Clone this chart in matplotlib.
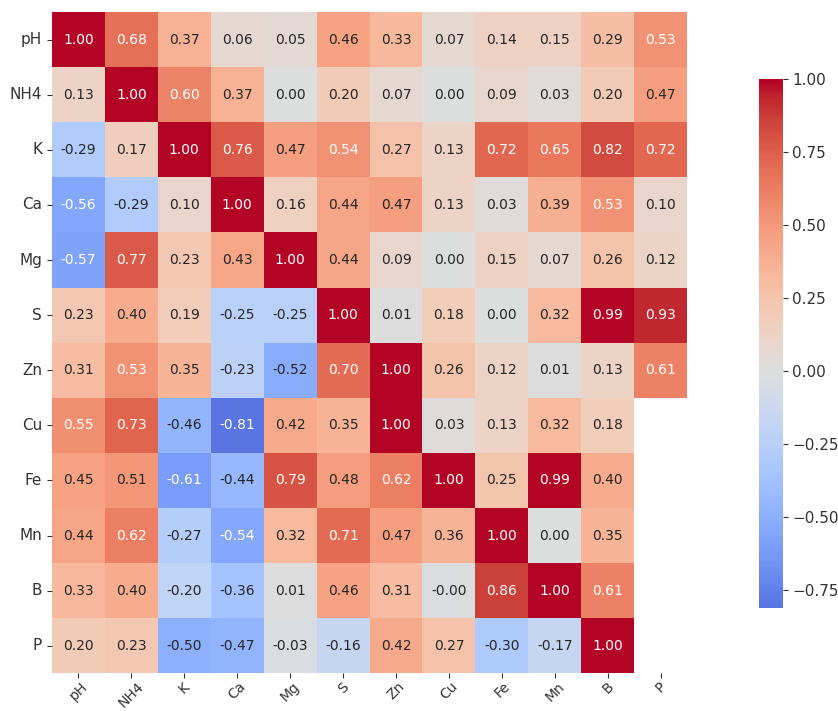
import numpy as np
import matplotlib
matplotlib.use('Agg')
import matplotlib.pyplot as plt
import seaborn as sns

# Variable names (rows and columns)
labels = ['pH', 'NH4', 'K', 'Ca', 'Mg', 'S', 'Zn', 'Cu', 'Fe', 'Mn', 'B', 'P']

# Correlation values, one list per row
row_pH  = [1.00, 0.68, 0.37, 0.06, 0.05, 0.46, 0.33, 0.07, 0.14, 0.15, 0.29, 0.53]
row_NH4 = [0.13, 1.00, 0.60, 0.37, 0.00, 0.20, 0.07, 0.00, 0.09, 0.03, 0.20, 0.47]
row_K   = [-0.29, 0.17, 1.00, 0.76, 0.47, 0.54, 0.27, 0.13, 0.72, 0.65, 0.82, 0.72]
row_Ca  = [-0.56, -0.29, 0.10, 1.00, 0.16, 0.44, 0.47, 0.13, 0.03, 0.39, 0.53, 0.10]
row_Mg  = [-0.57, 0.77, 0.23, 0.43, 1.00, 0.44, 0.09, 0.00, 0.15, 0.07, 0.26, 0.12]
row_S   = [0.23, 0.40, 0.19, -0.25, -0.25, 1.00, 0.01, 0.18, 0.00, 0.32, 0.99, 0.93]
row_Zn  = [0.31, 0.53, 0.35, -0.23, -0.52, 0.70, 1.00, 0.26, 0.12, 0.01, 0.13, 0.61]
row_Cu  = [0.55, 0.73, -0.46, -0.81, 0.42, 0.35, 1.00, 0.03, 0.13, 0.32, 0.18, np.nan]
row_Fe  = [0.45, 0.51, -0.61, -0.44, 0.79, 0.48, 0.62, 1.00, 0.25, 0.99, 0.40, np.nan]
row_Mn  = [0.44, 0.62, -0.27, -0.54, 0.32, 0.71, 0.47, 0.36, 1.00, 0.00, 0.35, np.nan]
row_B   = [0.33, 0.40, -0.20, -0.36, 0.01, 0.46, 0.31, -0.004, 0.86, 1.00, 0.61, np.nan]
row_P   = [0.20, 0.23, -0.50, -0.47, -0.03, -0.16, 0.42, 0.27, -0.30, -0.17, 1.00, np.nan]

matrix = np.array([row_pH, row_NH4, row_K, row_Ca, row_Mg, row_S,
                   row_Zn, row_Cu, row_Fe, row_Mn, row_B, row_P])

fig = plt.figure(figsize=(8.38, 7.11), dpi=100)
ax = fig.add_axes([0.062, 0.053, 0.758, 0.930])
cax = fig.add_axes([0.906, 0.145, 0.028, 0.744])

# center=0 keeps zero grey and lightens the blue end like the original
sns.heatmap(matrix, ax=ax, cbar_ax=cax, cmap='coolwarm', center=0,
            annot=True, fmt='.2f', annot_kws={'fontsize': 10},
            xticklabels=labels, yticklabels=labels)

ax.tick_params(axis='x', labelsize=10, rotation=45, colors='0.2', pad=1)
ax.tick_params(axis='y', labelsize=11, rotation=0, colors='0.2')
cax.tick_params(labelsize=11, colors='0.2')
cax.set_yticks([-0.75, -0.5, -0.25, 0.0, 0.25, 0.5, 0.75, 1.0])

plt.savefig('out.png', dpi=100)
